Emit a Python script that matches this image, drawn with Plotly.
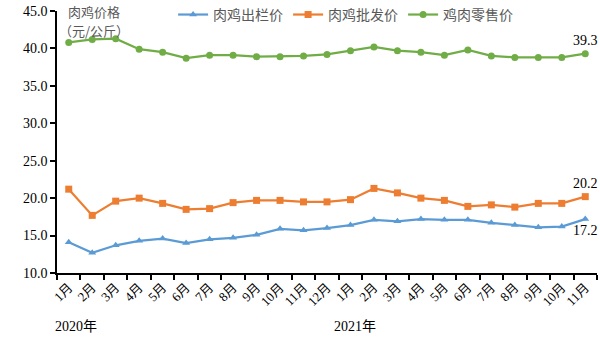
import plotly.graph_objects as go

months = ["1月", "2月", "3月", "4月", "5月", "6月", "7月", "8月", "9月", "10月", "11月", "12月",
          "1月", "2月", "3月", "4月", "5月", "6月", "7月", "8月", "9月", "10月", "11月"]
years = ["2020年", "2021年"]
unit_lines = ["肉鸡价格", "（元/公斤）"]

farm_gate = [14.1, 12.7, 13.7, 14.3, 14.6, 14.0, 14.5, 14.7, 15.1, 15.9, 15.7, 16.0,
             16.4, 17.1, 16.9, 17.2, 17.1, 17.1, 16.7, 16.4, 16.1, 16.2, 17.2]
wholesale = [21.2, 17.7, 19.6, 20.0, 19.3, 18.5, 18.6, 19.4, 19.7, 19.7, 19.5, 19.5,
             19.8, 21.3, 20.7, 20.0, 19.7, 18.9, 19.1, 18.8, 19.3, 19.3, 20.2]
retail = [40.8, 41.2, 41.3, 39.9, 39.5, 38.7, 39.1, 39.1, 38.9, 38.9, 39.0, 39.2,
          39.7, 40.2, 39.7, 39.5, 39.1, 39.8, 39.0, 38.8, 38.8, 38.8, 39.3]

x = list(range(len(months)))
serif = "Liberation Serif, Noto Sans CJK SC"
cjk = "Noto Sans CJK SC"

fig = go.Figure()
series = [
    ("肉鸡出栏价", farm_gate, "#5B9BD5", "triangle-up", "bottom center"),
    ("肉鸡批发价", wholesale, "#ED7D31", "square", "top center"),
    ("鸡肉零售价", retail, "#70AD47", "circle", "top center"),
]
for name, vals, color, sym, pos in series:
    labels = [""] * (len(vals) - 1) + [f"{vals[-1]:.1f}"]
    fig.add_trace(go.Scatter(
        x=x, y=vals, name=name, mode="lines+markers+text",
        line=dict(color=color, width=2.2),
        marker=dict(color=color, symbol=sym, size=7),
        text=labels, textposition=pos,
        textfont=dict(family=serif, size=14, color="#000000"),
        cliponaxis=False,
    ))

fig.update_layout(
    width=600, height=342,
    margin=dict(l=57, r=3, t=11, b=69, autoexpand=False),
    paper_bgcolor="white", plot_bgcolor="white",
    showlegend=True,
    legend=dict(orientation="h", x=0.215, y=0.985, xanchor="left", yanchor="middle",
                font=dict(family=cjk, size=14, color="#595959"),
                bgcolor="rgba(0,0,0,0)", itemwidth=30, tracegroupgap=0),
    font=dict(family=serif, size=13, color="#000000"),
)

fig.update_xaxes(
    range=[-0.5, len(months) - 0.5],
    tickmode="array", tickvals=x, ticktext=months, tickangle=-45,
    ticks="", showgrid=False, zeroline=False,
    showline=True, linecolor="#000000", linewidth=1.5,
    tickfont=dict(family=serif, size=13, color="#000000"),
    minor=dict(tick0=-0.5, dtick=1, ticks="outside", ticklen=5,
               tickcolor="#000000", tickwidth=1.5, showgrid=False),
)
fig.update_yaxes(
    range=[10, 45], dtick=5, tickformat=".1f",
    ticks="outside", ticklen=5, tickcolor="#000000", tickwidth=1.5,
    showgrid=False, zeroline=False,
    showline=True, linecolor="#000000", linewidth=1.5,
    tickfont=dict(family=serif, size=14, color="#000000"),
)

# unit title, two stacked lines in the top-left corner of the plot
for line, ypos in zip(unit_lines, [0.998, 0.925]):
    fig.add_annotation(xref="paper", yref="paper", x=0.0685, y=ypos,
                       xanchor="center", yanchor="middle", text=line, showarrow=False,
                       font=dict(family=cjk, size=13, color="#595959"))
fig.add_annotation(xref="x", yref="paper", x=0.3, y=-0.206, xanchor="center", yanchor="middle",
                   text=years[0], showarrow=False, font=dict(family=serif, size=14))
fig.add_annotation(xref="x", yref="paper", x=12.2, y=-0.206, xanchor="center", yanchor="middle",
                   text=years[1], showarrow=False, font=dict(family=serif, size=14))

fig.write_html("out.html")
